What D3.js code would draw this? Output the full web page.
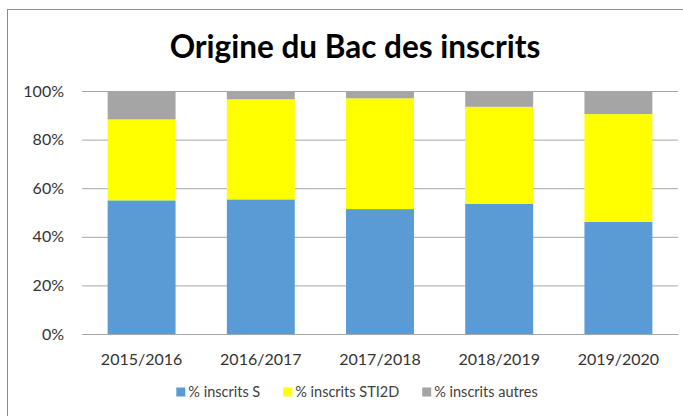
<!DOCTYPE html>
<html>
<head>
<meta charset="utf-8">
<script src="https://cdn.jsdelivr.net/npm/d3@7"></script>
<style>
  body { margin: 0; background: #fff; }
  svg { display: block; font-family: Lato, "Open Sans", sans-serif; }
</style>
</head>
<body>
<div id="chart"></div>
<script>
// categories and series (percent of enrolled students)
var years = ["2015/2016", "2016/2017", "2017/2018", "2018/2019", "2019/2020"];
var pctS = [55.0, 55.4, 51.4, 53.5, 46.2];
var pctSTI2D = [33.3, 41.2, 45.6, 40.0, 44.3];
var pctAutres = [11.7, 3.4, 3.0, 6.5, 9.5];
var seriesNames = ["% inscrits S", "% inscrits STI2D", "% inscrits autres"];
var yTicks = [0, 0.2, 0.4, 0.6, 0.8, 1];

var colors = ["#5B9BD5", "#FFFF00", "#A5A5A5"];
var keys = ["s", "sti2d", "autres"];

var rows = years.map(function(y, i) {
  return { year: y, s: pctS[i], sti2d: pctSTI2D[i], autres: pctAutres[i] };
});

var W = 683, H = 416;
var margin = { top: 91, right: 5, bottom: 82, left: 82 };
var width = 596, height = 243;

var svg = d3.select("#chart").append("svg").attr("width", W).attr("height", H);

// outer chart frame (runs past the right/bottom edge like the original)
svg.append("rect")
  .attr("x", 7.5).attr("y", 9.5)
  .attr("width", 700).attr("height", 430)
  .attr("fill", "#fff")
  .attr("stroke", "#8C8C8C");

svg.append("text")
  .attr("x", 355).attr("y", 58)
  .attr("text-anchor", "middle")
  .attr("font-size", 31.5)
  .attr("font-weight", "bold")
  .attr("fill", "#000")
  .text("Origine du Bac des inscrits");

var g = svg.append("g").attr("transform", "translate(" + margin.left + "," + margin.top + ")");

var x = d3.scaleBand().domain(years).range([0, width]).paddingInner(0.43).paddingOuter(0.215);
var y = d3.scaleLinear().domain([0, 1]).range([height, 0]);

var stack = d3.stack().keys(keys).offset(d3.stackOffsetExpand);
var layers = stack(rows);

// grid + y labels
var yAxis = g.append("g")
  .call(d3.axisLeft(y).tickValues(yTicks).tickSize(-width).tickPadding(18).tickFormat(d3.format(".0%")));
yAxis.select(".domain").remove();
yAxis.selectAll(".tick line").attr("stroke", "#A6A6A6");
yAxis.selectAll(".tick text").attr("font-size", 16).attr("fill", "#333").attr("font-family", "Lato, sans-serif");

g.append("g").selectAll("g")
  .data(layers)
  .enter().append("g")
  .attr("fill", function(d, i) { return colors[i]; })
  .selectAll("rect")
  .data(function(d) { return d; })
  .enter().append("rect")
  .attr("x", function(d) { return x(d.data.year); })
  .attr("y", function(d) { return y(d[1]); })
  .attr("width", x.bandwidth())
  .attr("height", function(d) { return y(d[0]) - y(d[1]); });

var xAxis = g.append("g")
  .attr("transform", "translate(0," + height + ")")
  .call(d3.axisBottom(x).tickSize(0).tickPadding(20));
xAxis.select(".domain").attr("stroke", "#A6A6A6");
xAxis.selectAll(".tick text").attr("font-size", 16).attr("fill", "#333").attr("font-family", "Lato, sans-serif");

// legend, laid out from measured text widths and centred
var legend = svg.append("g").attr("font-size", 14.5).attr("fill", "#404040");
var items = legend.selectAll("g").data(seriesNames).enter().append("g");
items.append("rect").attr("width", 9).attr("height", 9).attr("y", -9.5)
  .attr("fill", function(d, i) { return colors[i]; });
items.append("text").attr("x", 12).attr("y", 0).text(function(d) { return d; });

var pos = 0, offsets = [];
items.each(function() {
  var w = 12 + d3.select(this).select("text").node().getComputedTextLength();
  offsets.push(pos);
  pos += w + 23;
});
var totalW = pos - 23;
var startX = 357 - totalW / 2;
items.attr("transform", function(d, i) { return "translate(" + (startX + offsets[i]) + ",397)"; });
</script>
</body>
</html>
